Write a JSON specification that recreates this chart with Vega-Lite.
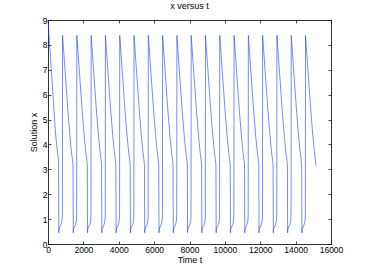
{
  "$schema": "https://vega.github.io/schema/vega-lite/v6.json",
  "width": 283,
  "height": 224,
  "autosize": "none",
  "padding": {"left": 48, "top": 20, "right": 35, "bottom": 31},
  "background": "white",
  "title": {"text": "x versus t", "fontSize": 9, "font": "Liberation Sans", "fontWeight": "normal", "offset": 5, "color": "black"},
  "config": {
    "view": {"stroke": null},
    "axis": {
      "grid": false,
      "domainColor": "black",
      "domainWidth": 0.8,
      "tickColor": "black",
      "tickWidth": 0.7,
      "tickSize": -3,
      "labelFont": "Liberation Sans",
      "labelFontSize": 8.5,
      "labelColor": "black",
      "titleFont": "Liberation Sans",
      "titleFontSize": 9,
      "titleFontWeight": "normal",
      "titleColor": "black"
    }
  },
  "data": {"values": [
    {"t":0,"x":9},{"t":150,"x":7.4},{"t":300,"x":5.8},{"t":420,"x":4.5},{"t":500,"x":3.92},{"t":560,"x":3.55},{"t":595,"x":3.3},{"t":603,"x":1.5},{"t":610,"x":0.45},{"t":618,"x":0.58},{"t":666,"x":0.68},{"t":736,"x":0.78},{"t":786,"x":0.92},{"t":812,"x":1.2},
    {"t":824,"x":8.38},{"t":974,"x":6.85},{"t":1124,"x":5.35},{"t":1244,"x":4.3},{"t":1324,"x":3.72},{"t":1384,"x":3.38},{"t":1414,"x":3.2},{"t":1422,"x":1.5},{"t":1428,"x":0.45},{"t":1436,"x":0.58},{"t":1484,"x":0.68},{"t":1554,"x":0.78},{"t":1604,"x":0.92},{"t":1622,"x":1.2},
    {"t":1632,"x":8.38},{"t":1782,"x":6.85},{"t":1932,"x":5.35},{"t":2052,"x":4.3},{"t":2132,"x":3.72},{"t":2192,"x":3.38},{"t":2222,"x":3.2},{"t":2230,"x":1.5},{"t":2236,"x":0.45},{"t":2244,"x":0.58},{"t":2292,"x":0.68},{"t":2362,"x":0.78},{"t":2412,"x":0.92},{"t":2430,"x":1.2},
    {"t":2440,"x":8.38},{"t":2590,"x":6.85},{"t":2740,"x":5.35},{"t":2860,"x":4.3},{"t":2940,"x":3.72},{"t":3000,"x":3.38},{"t":3030,"x":3.2},{"t":3038,"x":1.5},{"t":3044,"x":0.45},{"t":3052,"x":0.58},{"t":3100,"x":0.68},{"t":3170,"x":0.78},{"t":3220,"x":0.92},{"t":3238,"x":1.2},
    {"t":3248,"x":8.38},{"t":3398,"x":6.85},{"t":3548,"x":5.35},{"t":3668,"x":4.3},{"t":3748,"x":3.72},{"t":3808,"x":3.38},{"t":3838,"x":3.2},{"t":3846,"x":1.5},{"t":3852,"x":0.45},{"t":3860,"x":0.58},{"t":3908,"x":0.68},{"t":3978,"x":0.78},{"t":4028,"x":0.92},{"t":4046,"x":1.2},
    {"t":4056,"x":8.38},{"t":4206,"x":6.85},{"t":4356,"x":5.35},{"t":4476,"x":4.3},{"t":4556,"x":3.72},{"t":4616,"x":3.38},{"t":4646,"x":3.2},{"t":4654,"x":1.5},{"t":4660,"x":0.45},{"t":4668,"x":0.58},{"t":4716,"x":0.68},{"t":4786,"x":0.78},{"t":4836,"x":0.92},{"t":4854,"x":1.2},
    {"t":4864,"x":8.38},{"t":5014,"x":6.85},{"t":5164,"x":5.35},{"t":5284,"x":4.3},{"t":5364,"x":3.72},{"t":5424,"x":3.38},{"t":5454,"x":3.2},{"t":5462,"x":1.5},{"t":5468,"x":0.45},{"t":5476,"x":0.58},{"t":5524,"x":0.68},{"t":5594,"x":0.78},{"t":5644,"x":0.92},{"t":5662,"x":1.2},
    {"t":5672,"x":8.38},{"t":5822,"x":6.85},{"t":5972,"x":5.35},{"t":6092,"x":4.3},{"t":6172,"x":3.72},{"t":6232,"x":3.38},{"t":6262,"x":3.2},{"t":6270,"x":1.5},{"t":6276,"x":0.45},{"t":6284,"x":0.58},{"t":6332,"x":0.68},{"t":6402,"x":0.78},{"t":6452,"x":0.92},{"t":6470,"x":1.2},
    {"t":6480,"x":8.38},{"t":6630,"x":6.85},{"t":6780,"x":5.35},{"t":6900,"x":4.3},{"t":6980,"x":3.72},{"t":7040,"x":3.38},{"t":7070,"x":3.2},{"t":7078,"x":1.5},{"t":7084,"x":0.45},{"t":7092,"x":0.58},{"t":7140,"x":0.68},{"t":7210,"x":0.78},{"t":7260,"x":0.92},{"t":7278,"x":1.2},
    {"t":7288,"x":8.38},{"t":7438,"x":6.85},{"t":7588,"x":5.35},{"t":7708,"x":4.3},{"t":7788,"x":3.72},{"t":7848,"x":3.38},{"t":7878,"x":3.2},{"t":7886,"x":1.5},{"t":7892,"x":0.45},{"t":7900,"x":0.58},{"t":7948,"x":0.68},{"t":8018,"x":0.78},{"t":8068,"x":0.92},{"t":8086,"x":1.2},
    {"t":8096,"x":8.38},{"t":8246,"x":6.85},{"t":8396,"x":5.35},{"t":8516,"x":4.3},{"t":8596,"x":3.72},{"t":8656,"x":3.38},{"t":8686,"x":3.2},{"t":8694,"x":1.5},{"t":8700,"x":0.45},{"t":8708,"x":0.58},{"t":8756,"x":0.68},{"t":8826,"x":0.78},{"t":8876,"x":0.92},{"t":8894,"x":1.2},
    {"t":8904,"x":8.38},{"t":9054,"x":6.85},{"t":9204,"x":5.35},{"t":9324,"x":4.3},{"t":9404,"x":3.72},{"t":9464,"x":3.38},{"t":9494,"x":3.2},{"t":9502,"x":1.5},{"t":9508,"x":0.45},{"t":9516,"x":0.58},{"t":9564,"x":0.68},{"t":9634,"x":0.78},{"t":9684,"x":0.92},{"t":9702,"x":1.2},
    {"t":9712,"x":8.38},{"t":9862,"x":6.85},{"t":10012,"x":5.35},{"t":10132,"x":4.3},{"t":10212,"x":3.72},{"t":10272,"x":3.38},{"t":10302,"x":3.2},{"t":10310,"x":1.5},{"t":10316,"x":0.45},{"t":10324,"x":0.58},{"t":10372,"x":0.68},{"t":10442,"x":0.78},{"t":10492,"x":0.92},{"t":10510,"x":1.2},
    {"t":10520,"x":8.38},{"t":10670,"x":6.85},{"t":10820,"x":5.35},{"t":10940,"x":4.3},{"t":11020,"x":3.72},{"t":11080,"x":3.38},{"t":11110,"x":3.2},{"t":11118,"x":1.5},{"t":11124,"x":0.45},{"t":11132,"x":0.58},{"t":11180,"x":0.68},{"t":11250,"x":0.78},{"t":11300,"x":0.92},{"t":11318,"x":1.2},
    {"t":11328,"x":8.38},{"t":11478,"x":6.85},{"t":11628,"x":5.35},{"t":11748,"x":4.3},{"t":11828,"x":3.72},{"t":11888,"x":3.38},{"t":11918,"x":3.2},{"t":11926,"x":1.5},{"t":11932,"x":0.45},{"t":11940,"x":0.58},{"t":11988,"x":0.68},{"t":12058,"x":0.78},{"t":12108,"x":0.92},{"t":12126,"x":1.2},
    {"t":12136,"x":8.38},{"t":12286,"x":6.85},{"t":12436,"x":5.35},{"t":12556,"x":4.3},{"t":12636,"x":3.72},{"t":12696,"x":3.38},{"t":12726,"x":3.2},{"t":12734,"x":1.5},{"t":12740,"x":0.45},{"t":12748,"x":0.58},{"t":12796,"x":0.68},{"t":12866,"x":0.78},{"t":12916,"x":0.92},{"t":12934,"x":1.2},
    {"t":12944,"x":8.38},{"t":13094,"x":6.85},{"t":13244,"x":5.35},{"t":13364,"x":4.3},{"t":13444,"x":3.72},{"t":13504,"x":3.38},{"t":13534,"x":3.2},{"t":13542,"x":1.5},{"t":13548,"x":0.45},{"t":13556,"x":0.58},{"t":13604,"x":0.68},{"t":13674,"x":0.78},{"t":13724,"x":0.92},{"t":13742,"x":1.2},
    {"t":13752,"x":8.38},{"t":13902,"x":6.85},{"t":14052,"x":5.35},{"t":14172,"x":4.3},{"t":14252,"x":3.72},{"t":14312,"x":3.38},{"t":14342,"x":3.2},{"t":14350,"x":1.5},{"t":14356,"x":0.45},{"t":14364,"x":0.58},{"t":14412,"x":0.68},{"t":14482,"x":0.78},{"t":14532,"x":0.92},{"t":14550,"x":1.2},
    {"t":14560,"x":8.38},{"t":14710,"x":6.85},{"t":14860,"x":5.35},{"t":14980,"x":4.3},{"t":15060,"x":3.72},{"t":15120,"x":3.38},{"t":15150,"x":3.15}
  ]},
  "layer": [
    {
      "mark": {"type": "line", "color": "#1a3cff", "strokeWidth": 0.6},
      "encoding": {
        "x": {"field": "t", "type": "quantitative", "scale": {"domain": [0, 16000], "nice": false, "zero": false},
              "axis": {"orient": "bottom", "title": "Time t", "values": [0,2000,4000,6000,8000,10000,12000,14000,16000], "format": "d", "labelPadding": 4, "titlePadding": 2, "labelFlush": false}},
        "y": {"field": "x", "type": "quantitative", "scale": {"domain": [0, 9], "nice": false},
              "axis": {"orient": "left", "title": "Solution x", "values": [0,1,2,3,4,5,6,7,8,9], "labelPadding": 4, "titlePadding": 4, "labelFlush": false}}
      }
    },
    {
      "mark": {"type": "line", "opacity": 0},
      "encoding": {
        "x": {"field": "t", "type": "quantitative", "scale": {"domain": [0, 16000], "nice": false, "zero": false},
              "axis": {"orient": "top", "title": null, "labels": false, "values": [0,2000,4000,6000,8000,10000,12000,14000,16000]}},
        "y": {"field": "x", "type": "quantitative", "scale": {"domain": [0, 9], "nice": false},
              "axis": {"orient": "right", "title": null, "labels": false, "values": [0,1,2,3,4,5,6,7,8,9]}}
      }
    }
  ],
  "resolve": {"scale": {"x": "independent", "y": "independent"}, "axis": {"x": "independent", "y": "independent"}}
}
